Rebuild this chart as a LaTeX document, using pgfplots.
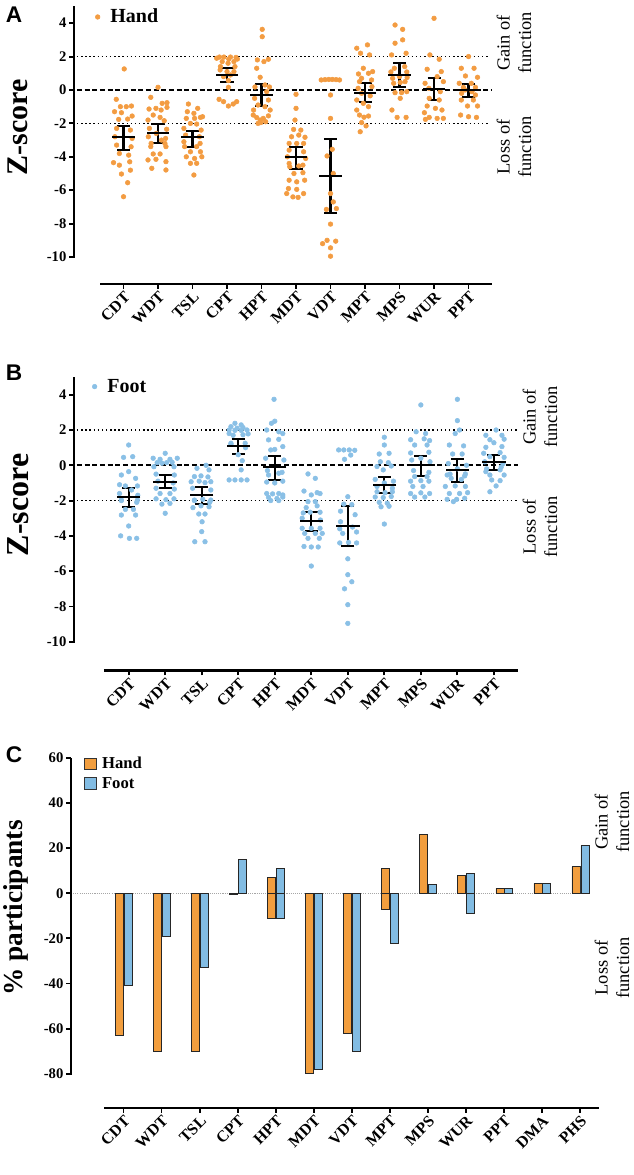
\documentclass[border=0pt]{standalone}
\usepackage{pgfplots}
\pgfplotsset{compat=1.18}
\usepackage{fontspec}
\setmainfont{Liberation Serif}
\newfontfamily\sansf{Liberation Sans}
\definecolor{hdot}{HTML}{F39C42}
\definecolor{fdot}{HTML}{8AC0E6}
\definecolor{hbar}{HTML}{F29E3E}
\definecolor{fbar}{HTML}{82BCE3}

\pgfplotstableread{
x y
0.02 1.26
-0.21 -0.56
-0.09 -1.0
0.08 -1.0
0.23 -0.96
-0.26 -1.3
-0.06 -1.36
0.25 -1.56
-0.14 -1.76
0.12 -1.74
-0.2 -2.3
0.2 -2.4
-0.25 -2.8
0.25 -2.9
-0.2 -3.3
0.22 -3.4
-0.12 -3.8
0.15 -3.9
-0.29 -4.35
-0.12 -4.5
0.18 -4.3
0.2 -4.8
-0.06 -5.03
0.12 -5.55
0 -6.39
1.0 0.16
0.79 -0.44
1.12 -0.8
1.26 -0.76
0.74 -1.14
0.94 -1.1
1.09 -1.2
1.26 -1.04
0.86 -1.5
1.06 -1.64
0.71 -1.8
1.18 -1.84
0.75 -2.3
1.25 -2.35
0.95 -2.6
0.72 -2.8
1.22 -2.9
1.1 -3.0
0.8 -3.2
1.2 -3.2
0.79 -3.39
1.23 -3.39
0.86 -3.83
1.06 -3.83
0.71 -4.19
0.94 -4.15
1.23 -4.29
0.82 -4.69
1.23 -4.79
1.88 -0.84
2.15 -1.1
1.85 -1.3
2.04 -1.4
2.23 -1.64
1.82 -1.7
2.06 -1.7
2.29 -1.6
1.94 -2.0
2.12 -2.04
1.75 -2.3
2.25 -2.4
1.8 -2.7
2.2 -2.8
1.75 -3.1
2.22 -3.2
1.77 -3.39
2.12 -3.39
1.94 -3.7
2.23 -3.7
1.82 -4.0
2.06 -4.1
2.27 -4.0
1.94 -4.39
2.12 -4.39
2.04 -5.09
2.78 1.97
2.91 1.97
3.1 1.97
3.26 1.95
2.7 1.9
3.3 1.85
3.05 1.85
2.86 1.7
3.03 1.6
3.2 1.7
2.81 1.4
3.23 1.4
2.8 1.2
3.2 1.1
3.0 1.1
2.9 0.8
3.1 0.9
3.04 0.56
3.04 0.16
2.77 -0.56
2.9 -0.7
3.04 -0.96
3.18 -0.84
3.28 -0.7
4.02 3.63
4.02 3.19
3.88 1.8
4.07 1.7
4.2 1.84
3.86 1.3
3.96 0.76
3.81 0.18
4.23 0.18
4.15 -0.1
4.1 0.3
3.8 -0.5
4.2 -0.6
3.9 -0.9
4.1 -1.0
3.77 -1.2
4.25 -1.2
3.76 -1.5
3.86 -1.65
3.96 -1.8
4.05 -1.7
4.2 -1.55
3.98 -1.95
3.9 -2.0
4.12 -1.9
5.0 -0.26
5.0 -1.1
4.97 -1.8
4.93 -2.36
5.14 -2.4
4.87 -2.8
5.08 -2.7
5.26 -2.83
4.8 -3.2
5.02 -3.2
5.22 -3.2
4.8 -3.6
5.22 -3.7
4.75 -4.0
5.28 -4.1
4.8 -4.4
5.2 -4.5
4.82 -4.6
5.08 -4.55
4.94 -5.0
5.2 -4.95
4.8 -5.4
5.02 -5.5
5.25 -5.4
4.78 -5.9
5.02 -5.95
4.73 -6.2
4.91 -6.4
5.06 -6.43
5.22 -6.2
5.73 0.6
5.84 0.62
5.95 0.63
6.05 0.63
6.16 0.62
6.26 0.6
6.0 -0.3
6.0 -1.7
6.05 -3.55
5.9 -3.95
6.08 -5.0
6.0 -6.2
6.08 -6.7
5.88 -7.15
6.17 -7.1
6.0 -8.03
5.77 -9.2
5.9 -9.0
6.15 -9.05
6.0 -9.45
6.0 -9.95
6.76 2.5
7.07 2.7
6.87 2.2
7.13 2.1
7.22 1.1
6.81 0.96
6.95 1.3
7.1 1.0
6.9 0.7
7.19 0.6
6.84 0.5
6.8 0.1
7.2 0.2
6.9 -0.2
7.15 -0.35
6.76 -0.6
6.95 -0.8
6.76 -1.2
7.1 -1.0
6.84 -1.5
6.97 -1.63
7.1 -1.56
6.9 -1.95
7.03 -2.15
6.86 -2.5
7.87 3.89
8.09 3.63
8.09 3.0
7.87 2.8
7.77 2.1
8.19 2.2
7.75 1.08
8.21 1.08
8.02 0.45
7.83 0.4
8.16 0.5
7.87 -0.16
8.06 -0.16
8.21 -0.1
8.02 -0.5
7.78 -1.2
7.93 -1.64
8.19 -1.64
7.85 1.3
8.15 1.4
8.0 0.8
7.8 0.7
8.22 0.75
9.0 4.29
8.88 2.1
9.15 1.84
8.8 1.24
9.09 0.8
9.21 1.1
8.74 0.4
9.27 0.5
8.85 0.1
9.18 -0.1
8.86 -0.5
9.15 -0.6
8.8 -0.96
9.04 -1.1
9.23 -1.2
8.72 -1.36
8.86 -1.64
9.09 -1.7
9.27 -1.7
8.75 -1.76
10.0 2.0
9.79 1.3
10.16 1.3
9.91 0.84
10.26 0.76
9.73 0.4
10.08 0.4
9.85 0.16
10.2 0.16
9.9 0.0
10.1 -0.1
9.8 -0.2
10.2 -0.3
9.79 -0.6
10.14 -0.6
9.97 -0.96
10.26 -0.96
9.77 -1.5
10.0 -1.6
10.23 -1.64
}\handpts

\pgfplotstableread{
x y
0.0 1.15
-0.14 0.45
0.11 0.49
0.0 -0.36
-0.2 -0.55
0.19 -0.74
-0.25 -1.1
-0.09 -1.17
0.24 -1.17
0.08 -1.4
-0.25 -1.6
0.25 -1.7
-0.2 -2.0
0.22 -2.1
-0.2 -1.97
0.24 -1.97
-0.09 -2.5
0.13 -2.5
-0.2 -2.82
0.19 -2.82
0.0 -3.44
-0.22 -4.0
0.02 -4.14
0.22 -4.14
1.0 0.68
0.67 0.4
0.86 0.34
1.13 0.34
1.33 0.4
0.78 0.15
0.91 0.12
1.04 0.15
1.19 0.17
0.69 -0.08
1.24 -0.08
0.75 -0.5
1.25 -0.55
0.8 -0.9
1.22 -1.0
0.75 -1.3
1.25 -1.35
0.86 -1.6
1.13 -1.6
0.75 -1.9
1.02 -1.95
1.24 -1.9
0.91 -2.2
1.13 -2.16
1.0 -2.72
2.12 0.0
1.87 -0.17
2.2 -0.26
1.8 -0.64
1.98 -0.6
2.17 -0.66
1.71 -0.93
1.93 -0.9
2.09 -0.98
2.25 -0.93
1.75 -1.3
2.25 -1.4
1.8 -2.0
2.22 -2.1
1.8 -1.97
2.03 -1.93
2.25 -1.97
1.76 -2.4
1.98 -2.3
2.2 -2.35
1.92 -2.76
2.09 -2.76
2.01 -3.2
2.0 -3.76
1.81 -4.33
2.09 -4.33
2.91 2.38
3.08 2.29
2.8 2.19
2.97 2.1
3.13 2.14
2.75 2.0
2.91 1.98
3.08 1.98
3.24 2.0
2.75 1.8
3.27 1.78
2.86 1.7
3.13 1.73
2.8 1.2
3.2 1.0
3.0 0.6
2.8 1.25
3.19 1.25
3.11 0.26
3.08 -0.26
2.75 -0.83
2.91 -0.83
3.08 -0.83
3.24 -0.83
3.98 3.74
3.91 2.38
4.0 2.5
3.78 2.0
4.11 1.9
4.22 1.8
4.11 1.47
3.83 1.44
3.89 0.87
4.22 1.06
3.75 0.4
4.25 0.3
4.0 0.9
3.8 -0.3
4.2 -0.4
3.83 -0.55
4.11 -0.45
3.78 -0.95
4.0 -1.0
4.22 -0.9
3.78 -1.6
3.94 -1.62
4.11 -1.6
4.22 -1.68
3.83 -1.82
4.06 -1.88
4.22 -1.8
3.89 -2.0
4.11 -2.0
4.91 -0.49
5.11 -0.74
4.8 -1.46
5.16 -1.55
5.0 -1.68
5.24 -1.6
4.91 -2.06
5.11 -2.06
4.86 -2.4
5.16 -2.3
4.78 -2.7
4.97 -2.66
5.24 -2.66
4.75 -3.0
5.25 -3.1
4.75 -3.57
5.0 -3.57
5.24 -3.57
4.82 -3.86
5.11 -3.86
5.3 -3.86
4.91 -4.14
5.22 -4.14
4.8 -4.6
5.0 -4.63
5.19 -4.63
5.0 -5.71
5.75 0.87
5.89 0.87
6.04 0.87
6.19 0.85
5.91 0.34
6.08 0.58
6.0 -1.78
5.89 -2.2
6.11 -2.23
5.8 -2.6
6.2 -2.8
5.8 -3.2
5.78 -3.6
6.13 -3.5
5.86 -3.86
6.24 -3.78
5.78 -4.4
6.02 -4.37
6.24 -4.4
6.0 -5.3
6.0 -6.2
6.11 -6.6
5.91 -7.0
6.0 -7.9
6.0 -8.96
7.0 1.59
7.0 1.15
6.86 0.64
7.13 0.68
6.89 0.2
7.11 0.15
6.8 -0.07
7.19 -0.04
6.97 -0.26
6.75 -0.8
7.25 -0.9
6.8 -1.2
7.22 -1.3
7.0 -1.0
6.8 -1.5
7.02 -1.55
7.22 -1.5
6.75 -1.8
6.97 -1.83
7.19 -1.77
6.86 -2.1
7.08 -2.15
6.91 -2.35
7.13 -2.32
7.0 -3.33
8.0 3.42
7.87 1.9
8.13 1.8
7.72 1.45
8.09 1.5
8.24 1.4
7.83 1.15
8.17 1.15
7.72 0.7
8.22 0.74
7.75 0.3
8.25 0.2
7.8 -0.3
8.22 -0.4
8.0 0.4
7.83 -0.64
8.17 -0.64
7.72 -0.9
8.0 -0.87
8.22 -0.9
7.78 -1.2
8.06 -1.2
7.72 -1.6
8.0 -1.56
8.24 -1.6
7.83 -1.8
8.11 -1.8
9.0 3.74
9.0 2.53
9.06 2.0
8.94 1.8
8.78 1.15
9.17 1.1
8.87 0.64
9.13 0.64
8.75 0.1
9.25 0.0
8.8 -0.5
9.2 -0.6
9.0 -0.2
8.72 -0.55
9.22 -0.49
8.83 -0.74
9.11 -0.8
8.67 -1.2
8.94 -1.17
9.22 -1.2
8.78 -1.6
9.06 -1.6
9.28 -1.55
8.72 -1.93
8.98 -1.93
9.2 -1.87
8.89 -2.06
10.06 2.0
9.78 1.7
10.22 1.7
9.89 1.45
10.28 1.48
10.0 1.28
9.78 1.02
10.22 1.06
9.72 0.68
10.17 0.72
9.89 0.49
10.28 0.45
9.75 0.2
10.25 0.1
9.8 -0.2
10.2 -0.1
9.78 -0.36
10.17 -0.26
9.89 -0.55
10.28 -0.55
9.94 -0.83
10.17 -0.87
10.06 -1.17
9.89 -1.5
}\footpts

\pgfplotstableread{
x y ep em
0 -2.83 0.67 0.76
1 -2.6 0.56 0.59
2 -2.83 0.37 0.56
3 0.9 0.4 0.44
4 -0.28 0.64 0.68
5 -4.03 0.64 0.7
6 -5.15 2.2 2.24
7 -0.16 0.6 0.58
8 0.92 0.68 0.72
9 0.06 0.64 0.66
10 0.0 0.36 0.4
}\handmean

\pgfplotstableread{
x y ep em
0 -1.78 0.51 0.56
1 -0.93 0.36 0.37
2 -1.68 0.43 0.51
3 1.1 0.39 0.46
4 -0.11 0.66 0.72
5 -3.16 0.51 0.54
6 -3.42 1.13 1.14
7 -1.13 0.47 0.46
8 0.0 0.55 0.59
9 -0.28 0.64 0.65
10 0.19 0.38 0.45
}\footmean

\tikzset{
  dotline/.style={line width=1.1pt, dash pattern=on 1.1pt off 2pt},
  dashline/.style={line width=1.5pt, dash pattern=on 3.75pt off 2pt},
  gainfont/.style={rotate=90, align=center, font=\fontsize{13.8}{16}\selectfont},
}

\pgfplotsset{
  panel/.style={
    scale only axis, clip=false,
    axis line style={draw=none},
    tick align=outside, xtick pos=bottom, ytick pos=left,
    major tick length=3.5pt,
    every tick/.style={line width=1.4pt, black},
    tick label style={font=\fontsize{11}{13}\selectfont\bfseries},
    xticklabel style={rotate=45, anchor=north east, inner sep=1pt, font=\fontsize{12}{14}\selectfont\bfseries},
    yticklabel style={inner sep=2pt},
  },
  zpanel/.style={
    panel, ymax=5,
    ytick={-10,-8,-6,-4,-2,0,2,4},
    yticklabels={-10,-8,-6,-4,-2,0,2,4},
    xtick={0,...,10},
    xticklabels={CDT,WDT,TSL,CPT,HPT,MDT,VDT,MPT,MPS,WUR,PPT},
    legend style={draw=none, fill=none, inner sep=0pt, outer sep=0pt,
      nodes={inner sep=1pt}, font=\fontsize{15}{17}\selectfont\bfseries},
  },
  meanstyle/.style={black, only marks, mark=-, mark size=#1,
    mark options={line width=1.6pt},
    error bars/.cd, y dir=both, y explicit, error mark=-,
    error bar style={line width=1.6pt},
    error mark options={rotate=90, line width=1.6pt, mark size=4.9pt}},
  sqlegend/.style={legend image code/.code={\path[draw=none,fill=none] (0pt,0pt) -- (11.8pt,0pt); \draw[##1] (0pt,-4.35pt) rectangle (9pt,4.35pt);}},
  dotlegend/.style={legend image code/.code={\path[draw=none,fill=none] (0pt,0pt) -- (10.5pt,0pt); \draw[##1] plot coordinates {(2pt,0pt)};}},
}

\begin{document}
\begin{tikzpicture}
\useasboundingbox (0,0) rectangle (474.75pt,-881.25pt);

% ---------------- Panel A ----------------
\begin{axis}[zpanel, at={(55.5pt,-4.84pt)}, anchor=north west,
  width=313.5pt, height=208.1pt,
  xmin=-1.435, xmax=10.68, ymin=-11.61,
  legend style={at={(axis cs:-0.826,4.37)}, anchor=west}]
  \draw[dotline] (axis cs:-1.35,2) -- (axis cs:10.62,2);
  \draw[dotline] (axis cs:-1.35,-2) -- (axis cs:10.62,-2);
  \draw[dashline] (axis cs:-1.35,0) -- (axis cs:10.68,0);
  \draw[line width=1.8pt] (axis cs:-1.435,-10.05) -- (axis cs:-1.435,5);
  \draw[line width=1.8pt] (axis cs:-0.68,-11.61) -- (axis cs:10.68,-11.61);
  \addplot[only marks, mark=*, mark size=1.75pt, color=hdot, dotlegend] table[x=x,y=y] {\handpts};
  \addlegendentry{Hand}
  \addplot[meanstyle=8.3pt] table[x=x,y=y,y error plus=ep,y error minus=em] {\handmean};
\end{axis}

% ---------------- Panel B ----------------
\begin{axis}[zpanel, at={(55.5pt,-282.8pt)}, anchor=north west,
  width=333pt, height=220.2pt,
  xmin=-1.497, xmax=10.66, ymin=-11.64,
  legend style={at={(axis cs:-1.005,4.46)}, anchor=west}]
  \draw[dotline] (axis cs:-1.415,2) -- (axis cs:10.66,2);
  \draw[dotline] (axis cs:-1.415,-2) -- (axis cs:10.66,-2);
  \draw[dashline] (axis cs:-1.415,0) -- (axis cs:10.66,0);
  \draw[line width=1.8pt] (axis cs:-1.497,-10.05) -- (axis cs:-1.497,5);
  \draw[line width=1.8pt] (axis cs:-0.676,-11.64) -- (axis cs:10.66,-11.64);
  \addplot[only marks, mark=*, mark size=1.75pt, color=fdot, dotlegend] table[x=x,y=y] {\footpts};
  \addlegendentry{Foot}
  \addplot[meanstyle=8.8pt] table[x=x,y=y,y error plus=ep,y error minus=em] {\footmean};
\end{axis}

% ---------------- Panel C ----------------
\begin{axis}[panel, at={(53.25pt,-568.4pt)}, anchor=north west,
  width=396pt, height=262.5pt,
  xmin=-1.38, xmax=12.5, ymin=-95.1, ymax=60,
  ytick={-80,-60,-40,-20,0,20,40,60},
  yticklabels={-80,-60,-40,-20,0,20,40,60},
  xtick={0,...,12},
  xticklabels={CDT,WDT,TSL,CPT,HPT,MDT,VDT,MPT,MPS,WUR,PPT,DMA,PHS},
  legend style={draw=none, fill=none, inner sep=0pt, outer sep=0pt, row sep=2pt,
     nodes={inner sep=1.5pt}, font=\fontsize{12.5}{14}\selectfont\bfseries,
     at={(axis cs:-1.04,61.3)}, anchor=north west, legend cell align=left}]
  \draw[gray!70, line width=0.5pt, dash pattern=on 0.8pt off 0.8pt] (axis cs:-1.38,0) -- (axis cs:12.18,0);
  \draw[line width=1.8pt] (axis cs:-1.38,-80.4) -- (axis cs:-1.38,60);
  \draw[line width=1.8pt] (axis cs:-0.5,-95.1) -- (axis cs:12.5,-95.1);
  \addplot[ybar, bar width=0.21, bar shift=0pt, fill=hbar, draw=black!85, line width=0.6pt, forget plot]
    coordinates {(-0.105,-63) (0.895,-70) (1.895,-70) (2.895,-0.6) (3.895,-11) (3.895,7)
      (4.895,-80) (5.895,-62) (6.895,-7) (6.895,11) (7.895,26) (8.895,8)
      (9.895,2.2) (10.895,4.4) (11.895,11.7)};
  \addplot[ybar, bar width=0.21, bar shift=0pt, fill=fbar, draw=black!85, line width=0.6pt, forget plot]
    coordinates {(0.13,-41) (1.13,-19) (2.13,-33) (3.13,14.8) (4.13,-11) (4.13,10.9)
      (5.13,-78) (6.13,-70) (7.13,-22) (8.13,3.8) (9.13,-9) (9.13,8.9)
      (10.13,2.2) (11.13,4.4) (12.13,21.1)};
  \addlegendimage{sqlegend, fill=hbar, draw=black!80, line width=0.6pt}
  \addlegendentry{Hand}
  \addlegendimage{sqlegend, fill=fbar, draw=black!80, line width=0.6pt}
  \addlegendentry{Foot}
\end{axis}

% ---------------- Texts ----------------
\node[font=\sansf\bfseries\fontsize{17}{19}\selectfont] at (10.5pt,-11.25pt) {A};
\node[font=\sansf\bfseries\fontsize{17}{19}\selectfont] at (10.5pt,-279.75pt) {B};
\node[font=\sansf\bfseries\fontsize{17}{19}\selectfont] at (10.5pt,-566.25pt) {C};
\node[rotate=90, font=\bfseries\fontsize{22.5}{24}\selectfont] at (13.5pt,-95.25pt) {Z-score};
\node[rotate=90, font=\bfseries\fontsize{24}{26}\selectfont] at (13.5pt,-378.75pt) {Z-score};
\node[rotate=90, font=\bfseries\fontsize{20.5}{22}\selectfont] at (12pt,-681pt) {\% participants};
\node[gainfont] at (385.5pt,-32.25pt) {Gain of\\function};
\node[gainfont] at (385.5pt,-110.25pt) {Loss of\\function};
\node[gainfont] at (405pt,-312.75pt) {Gain of\\function};
\node[gainfont] at (405pt,-395.25pt) {Loss of\\function};
\node[gainfont] at (459pt,-616.5pt) {Gain of\\function};
\node[gainfont] at (459pt,-726pt) {Loss of\\function};
\end{tikzpicture}
\end{document}
